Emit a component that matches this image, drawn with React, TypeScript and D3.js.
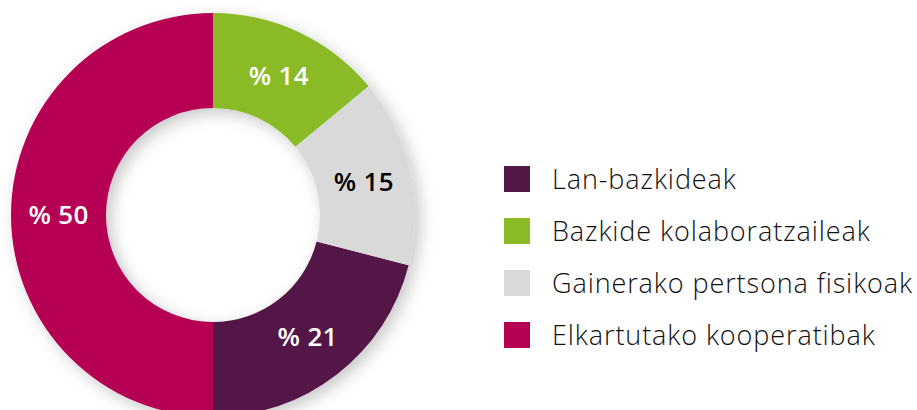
import React from "react";
import * as d3 from "d3";

const categories = ["Lan-bazkideak", "Bazkide kolaboratzaileak", "Gainerako pertsona fisikoak", "Elkartutako kooperatibak"];
const values = [21, 14, 15, 50];
const colors = ["#521947", "#8abb27", "#d9d9d9", "#b60052"];
const labelColors = ["#ffffff", "#ffffff", "#000000", "#ffffff"];
const pieOrder = [1, 2, 0, 3];

const W = 917;
const H = 410;
const cx = 213;
const cy = 215;
const outerR = 202;
const innerR = 107;

export default function App() {
  const data = categories.map((c, i) => ({ c, v: values[i], i }));
  const pie = d3
    .pie<any>()
    .value((d) => d.v)
    .sort((a, b) => pieOrder.indexOf(a.i) - pieOrder.indexOf(b.i));
  const arcs = pie(data);
  const arc = d3.arc<any>().innerRadius(innerR).outerRadius(outerR);
  const legendY = d3.scaleBand().domain(categories).range([166, 374]).paddingInner(0);

  return (
    <svg width={W} height={H} style={{ position: "absolute", left: 0, top: 0, background: "#fff" }}>
      <defs>
        <filter id="sh" x="-20%" y="-20%" width="140%" height="140%">
          <feDropShadow dx="5" dy="5" stdDeviation="8" floodColor="#000" floodOpacity="0.22" />
        </filter>
      </defs>
      <g transform={`translate(${cx},${cy})`}>
        <g filter="url(#sh)">
          {arcs.map((a) => (
            <path key={a.data.c} d={arc(a) as string} fill={colors[a.data.i]} />
          ))}
        </g>
        {arcs.map((a) => {
          const [x, y] = arc.centroid(a);
          return (
            <text
              key={"l" + a.data.c}
              x={x}
              y={y}
              dy="0.36em"
              textAnchor="middle"
              fontFamily="'Open Sans', sans-serif"
              fontWeight={600}
              fontSize={26}
              letterSpacing={0.3}
              fill={labelColors[a.data.i]}
            >
              {`% ${a.data.v}`}
            </text>
          );
        })}
      </g>
      <g>
        {categories.map((c, i) => (
          <g key={c} transform={`translate(504,${legendY(c)})`}>
            <rect width={26} height={26} fill={colors[i]} />
            <text
              x={48}
              y={13}
              dy="0.36em"
              fontFamily="'Open Sans', sans-serif"
              fontWeight={300}
              fontSize={27}
              letterSpacing={0.9}
              fill="#111"
            >
              {c}
            </text>
          </g>
        ))}
      </g>
    </svg>
  );
}
